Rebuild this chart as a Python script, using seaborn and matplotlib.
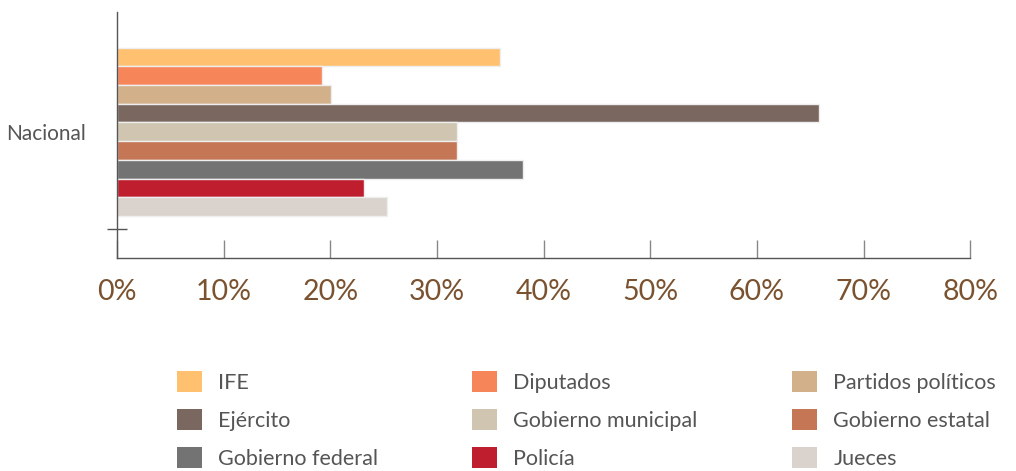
import matplotlib.pyplot as plt
import seaborn as sns
import pandas as pd
from matplotlib.ticker import FixedLocator, PercentFormatter

# datos
region = ['Nacional']
instituciones = ['IFE', 'Diputados', 'Partidos políticos', 'Ejército', 'Gobierno municipal',
                 'Gobierno estatal', 'Gobierno federal', 'Policía', 'Jueces']
valores = [35.9, 19.2, 20.1, 65.8, 31.9, 31.9, 38.1, 23.2, 25.3]
colores = ['#FFC170', '#F6855A', '#D2B08A', '#7A6860', '#D0C5B0',
           '#C47655', '#737373', '#BE1E2D', '#DAD2CC']
xticks = [0, 10, 20, 30, 40, 50, 60, 70, 80]

df = pd.DataFrame({'region': region * len(instituciones),
                   'institucion': instituciones,
                   'valor': valores})

sns.set_style('white')
plt.rcParams['font.family'] = ['Lato', 'DejaVu Sans']

fig = plt.figure(figsize=(10.16, 4.71), dpi=100)
ax = fig.add_axes([0.115, 0.452, 0.84, 0.523])

sns.barplot(data=df, x='valor', y='region', hue='institucion', hue_order=instituciones,
            palette=colores, saturation=1, orient='h', width=0.8, edgecolor='#eeeeee',
            linewidth=1, legend=False, ax=ax)

ax.set_xlim(0, 80)
ax.set_ylim(0.6, -0.57)
ax.set_xticks(xticks)
ax.xaxis.set_major_formatter(PercentFormatter(decimals=0))
ax.tick_params(axis='x', direction='in', length=13, width=1, color='#888888',
               labelsize=20.5, labelcolor='#7A5230', pad=15, bottom=True)
ax.tick_params(axis='y', length=0, labelsize=15, labelcolor='#555555', pad=22)
ax.yaxis.set_minor_locator(FixedLocator([0.46]))
ax.tick_params(axis='y', which='minor', direction='inout', length=14, width=1,
               color='#555555', left=True)
ax.set_xlabel('')
ax.set_ylabel('')
for s in ['top', 'right']:
    ax.spines[s].set_visible(False)
for s in ['left', 'bottom']:
    ax.spines[s].set_color('#555555')
    ax.spines[s].set_linewidth(1)

# leyenda en 3 columnas, por filas
handles = [plt.Rectangle((0, 0), 1, 1, facecolor=c, edgecolor='none') for c in colores]
orden = [0, 3, 6, 1, 4, 7, 2, 5, 8]
fig.legend([handles[i] for i in orden], [instituciones[i] for i in orden],
           ncol=3, loc='lower left', bbox_to_anchor=(0.155, -0.036), frameon=False,
           fontsize=15.5, labelcolor='#555555', handlelength=1.15, handleheight=1.15,
           handletextpad=0.75, columnspacing=4.4, labelspacing=0.74)

plt.savefig('out.png', dpi=100)
